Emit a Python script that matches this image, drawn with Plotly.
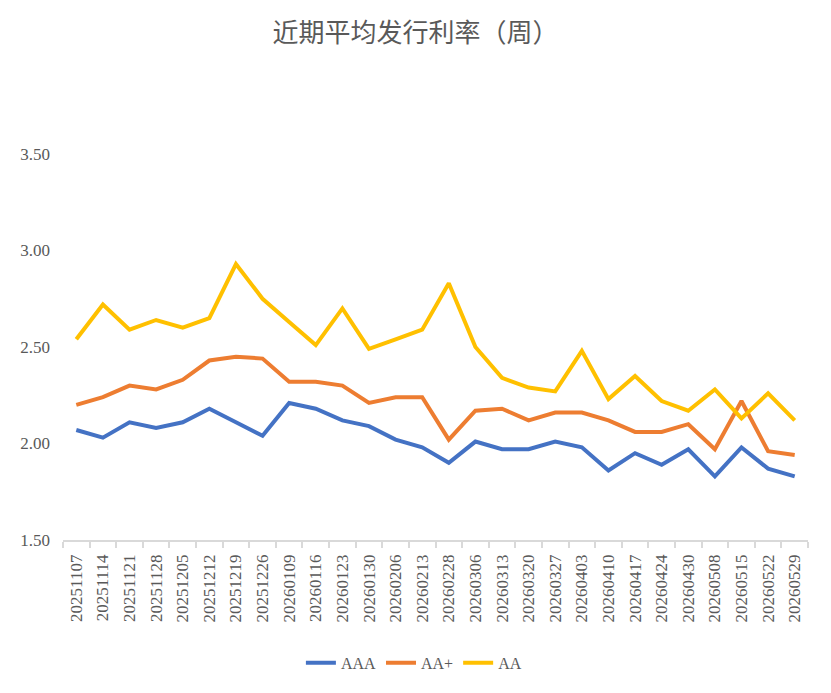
import plotly.graph_objects as go

dates = ["20251107", "20251114", "20251121", "20251128", "20251205", "20251212", "20251219",
         "20251226", "20260109", "20260116", "20260123", "20260130", "20260206", "20260213",
         "20260228", "20260306", "20260313", "20260320", "20260327", "20260403", "20260410",
         "20260417", "20260424", "20260430", "20260508", "20260515", "20260522", "20260529"]

aaa = [2.07, 2.03, 2.11, 2.08, 2.11, 2.18, 2.11, 2.04, 2.21, 2.18, 2.12, 2.09, 2.02, 1.98,
       1.90, 2.01, 1.97, 1.97, 2.01, 1.98, 1.86, 1.95, 1.89, 1.97, 1.83, 1.98, 1.87, 1.83]
aa_plus = [2.20, 2.24, 2.30, 2.28, 2.33, 2.43, 2.45, 2.44, 2.32, 2.32, 2.30, 2.21, 2.24, 2.24,
           2.02, 2.17, 2.18, 2.12, 2.16, 2.16, 2.12, 2.06, 2.06, 2.10, 1.97, 2.22, 1.96, 1.94]
aa = [2.54, 2.72, 2.59, 2.64, 2.60, 2.65, 2.93, 2.75, 2.63, 2.51, 2.70, 2.49, 2.54, 2.59,
      2.83, 2.50, 2.34, 2.29, 2.27, 2.48, 2.23, 2.35, 2.22, 2.17, 2.28, 2.13, 2.26, 2.12]

series = [("AAA", aaa, "#4472C4"), ("AA+", aa_plus, "#ED7D31"), ("AA", aa, "#FFC000")]

y_ticks = [1.5, 2.0, 2.5, 3.0, 3.5]

fig = go.Figure()
for name, vals, color in series:
    fig.add_trace(go.Scatter(x=dates, y=vals, name=name, mode="lines",
                             line=dict(color=color, width=4)))

serif = "Liberation Serif, DejaVu Serif, serif"
fig.update_layout(
    width=831, height=693,
    paper_bgcolor="white", plot_bgcolor="white",
    margin=dict(l=63, r=23, t=154, b=153),
    title=dict(text="近期平均发行利率（周）", x=0.5, xanchor="center", y=0.952, yanchor="middle",
               font=dict(family="Noto Sans CJK SC", size=26, color="#595959")),
    showlegend=True,
    legend=dict(orientation="h", x=0.471, xanchor="center", y=-0.318, yanchor="middle",
                font=dict(family=serif, size=16, color="#595959"), itemwidth=30,
                traceorder="normal"),
    xaxis=dict(type="category", range=[-0.5, len(dates) - 0.5], showgrid=False,
               showline=True, linecolor="#d9d9d9", linewidth=1.5,
               ticks="outside", tickson="boundaries", ticklen=6, tickcolor="#d9d9d9", tickwidth=1.5,
               tickangle=-90, ticklabelstandoff=6,
               tickfont=dict(family=serif, size=17, color="#595959")),
    yaxis=dict(range=[1.5, 3.5], tickvals=y_ticks, tickformat=".2f", showgrid=False,
               showline=False, zeroline=False, ticklabelstandoff=12,
               tickfont=dict(family=serif, size=17, color="#595959")),
)

fig.write_html("out.html")
